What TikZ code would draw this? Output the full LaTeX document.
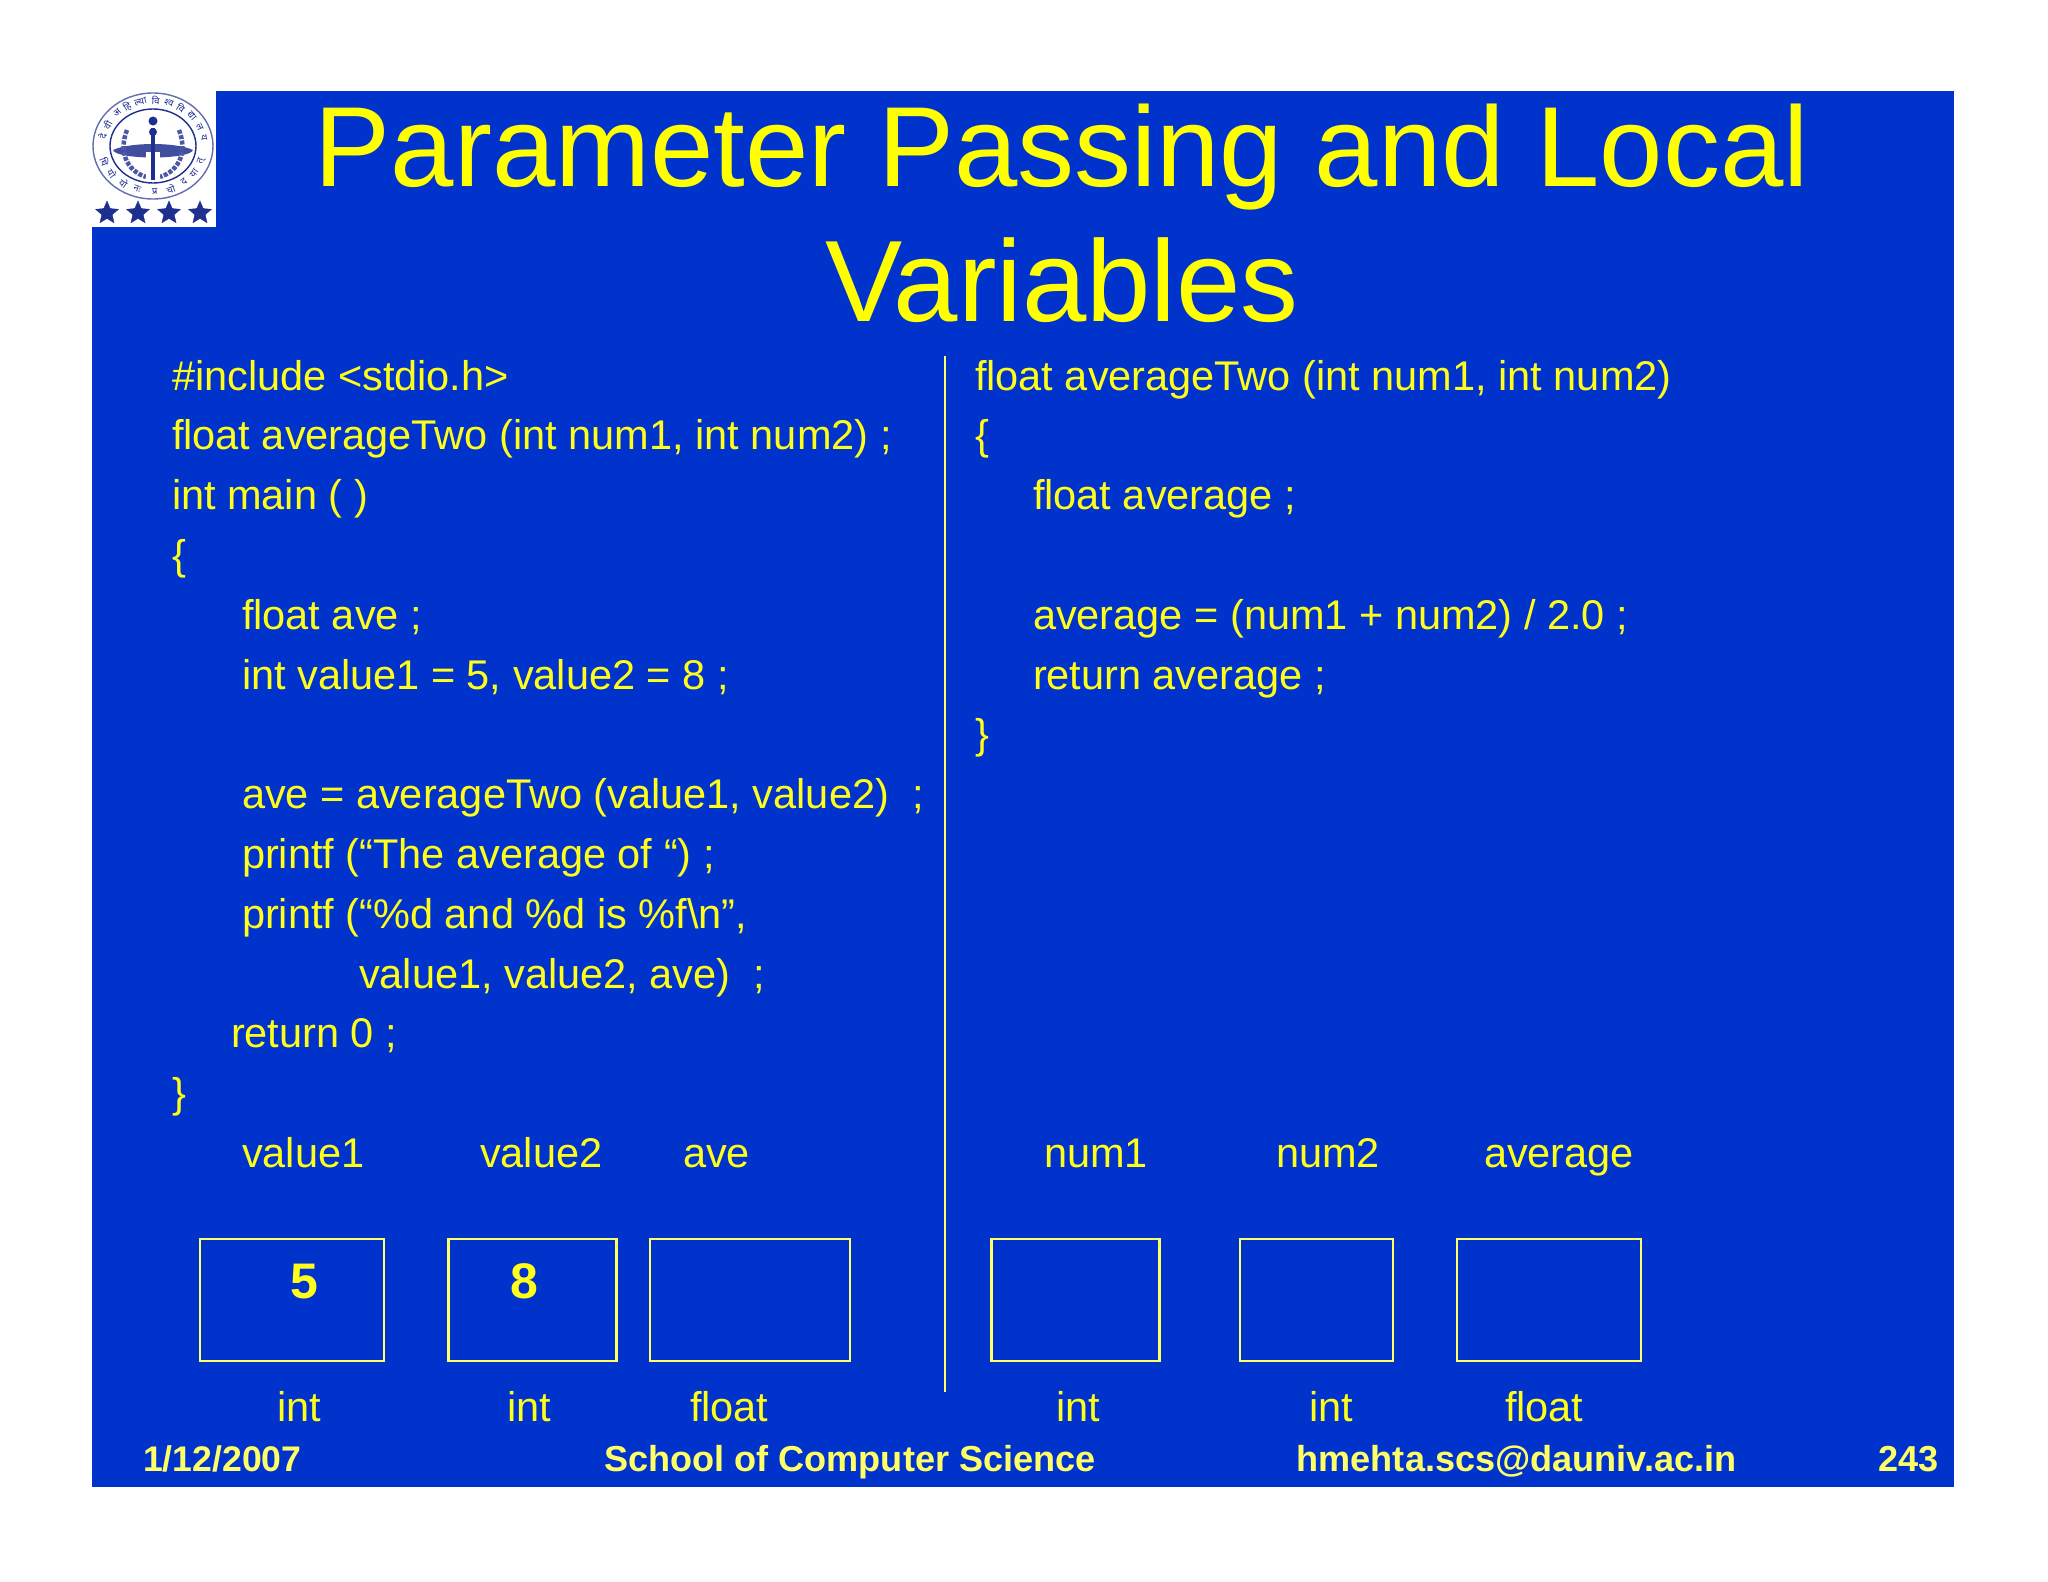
\documentclass[tikz,border=0pt]{standalone}
\usepackage{fontspec}
\usetikzlibrary{shapes.geometric}
\setmainfont{Liberation Sans}
\newfontfamily\devafont[Script=Devanagari]{Noto Sans}
\definecolor{slidebg}{HTML}{0033CC}
\definecolor{slideyel}{HTML}{FFFF1A}
\definecolor{titleyel}{HTML}{FFFF00}
\definecolor{foot}{HTML}{FFFF66}
\definecolor{logoblue}{HTML}{1F2F8F}
\newcommand{\code}[3]{\node[codetext] at (#1,#2) {#3};}
\tikzset{
 x=1pt,y=-1pt,
 codetext/.style={anchor=base west,inner sep=0,outer sep=0,text=slideyel,font=\fontsize{41.5}{41.5}\selectfont},
 titletext/.style={anchor=base,inner sep=0,text=titleyel},
 foottext/.style={anchor=base west,inner sep=0,text=foot,font=\bfseries\fontsize{36.1}{36.1}\selectfont},
 valtext/.style={anchor=base west,inner sep=0,text=slideyel,font=\bfseries\fontsize{50}{50}\selectfont},
 varbox/.style={draw=foot,line width=2.7pt,inner sep=0,anchor=north west},
 logostar/.style={star,star points=5,star point ratio=2.2,fill=logoblue,draw=logoblue,inner sep=0,minimum size=24pt},
 logoglyph/.style={inner sep=0,text=logoblue,font=\devafont\bfseries\fontsize{9.5}{9.5}\selectfont},
}
\begin{document}
\begin{tikzpicture}
\useasboundingbox (0,0) rectangle (2048,1582);
\fill[white] (0,0) rectangle (2048,1582);
\fill[slidebg] (92,91) rectangle (1954,1487);
% logo
\fill[white] (92,91) rectangle (215.5,227);
\draw[logoblue!70,line width=1.4pt] (153,146) ellipse [x radius=60,y radius=53];
\draw[logoblue,line width=1.4pt] (153,146) ellipse [x radius=43,y radius=37];
\foreach \a/\g in {168/दे,152/वी,134/अ,120/हि,104/ल्या,87/वि,72/श्व,57/वि,41/द्या,25/ल,10/य}
  \node[logoglyph,rotate=\a-90] at ({153+51.5*cos(\a)},{146-45.5*sin(\a)}) {\g};
\foreach \a/\g in {-160/धि,-143/यो,-125/यो,-108/नः,-88/प्र,-70/चो,-53/द,-37/या,-20/त्}
  \node[logoglyph,rotate=\a+90] at ({153+51.5*cos(\a)},{146-45.5*sin(\a)}) {\g};
\fill[logoblue!85] (113,150) .. controls (130,142) and (176,142) .. (193,150) .. controls (190,160) and (116,160) .. (113,150) -- cycle;
\draw[logoblue!80,line width=4.5pt,dash pattern=on 4pt off 1.5pt] (127,130) .. controls (119,150) and (125,170) .. (146,177);
\draw[logoblue!80,line width=4.5pt,dash pattern=on 4pt off 1.5pt] (179,130) .. controls (187,150) and (181,170) .. (160,177);
\fill[white] (146,152) rectangle (160,180);
\fill[logoblue] (151,128) rectangle (155,180);
\fill[logoblue] (153,121) circle (4.5pt) (153,132) circle (4pt);
\node[logostar] (s1) at (107,213) {};
\node[logostar] (s2) at (138,213) {};
\node[logostar] (s3) at (169,213) {};
\node[logostar] (s4) at (200,213) {};
% title
\node[titletext,font=\fontsize{113.9}{113.9}\selectfont] (t1) at (1062,186) {Parameter Passing and Local};
\node[titletext,font=\fontsize{115.7}{115.7}\selectfont] (t2) at (1062,321) {Variables};
% left code
\code{172}{390}{\#include <stdio.h>}
\code{172}{449.8}{float averageTwo (int num1, int num2) ;}
\code{172}{509.6}{int main ( )}
\code{172}{569.4}{\{}
\code{242}{629.2}{float ave ;}
\code{242}{689}{int value1 = 5, value2 = 8 ;}
\code{242}{808.6}{ave = averageTwo (value1, value2)\ \ ;}
\code{242}{868.4}{printf (“The average of “) ;}
\code{242}{928.2}{printf (“\%d and \%d is \%f\textbackslash n”,}
\code{359}{988}{value1, value2, ave)\ \ ;}
\code{231}{1047.8}{return 0 ;}
\code{172}{1107.6}{\}}
% right code
\code{975}{390}{float averageTwo (int num1, int num2)}
\code{975}{449.8}{\{}
\code{1033}{509.6}{float average ;}
\code{1033}{629.2}{average = (num1 + num2) / 2.0 ;}
\code{1033}{689}{return average ;}
\code{975}{748.8}{\}}
% divider
\coordinate (divtop) at (945,356);
\coordinate (divbot) at (945,1392);
\draw[foot,line width=2.4pt] (divtop) -- (divbot);
% variable names
\code{242}{1167.4}{value1}
\code{480}{1167.4}{value2}
\code{683}{1167.4}{ave}
\code{1044}{1167.4}{num1}
\code{1276}{1167.4}{num2}
\code{1484}{1167.4}{average}
% boxes
\node[varbox,minimum width=184pt,minimum height=122pt] (b1) at (198.6,1237.6) {};
\node[varbox,minimum width=168pt,minimum height=122pt] (b2) at (447.1,1237.6) {};
\node[varbox,minimum width=200pt,minimum height=122pt] (b3) at (648.6,1237.6) {};
\node[varbox,minimum width=168pt,minimum height=122pt] (b4) at (990.1,1237.6) {};
\node[varbox,minimum width=153pt,minimum height=122pt] (b5) at (1238.6,1237.6) {};
\node[varbox,minimum width=184pt,minimum height=122pt] (b6) at (1455.6,1237.6) {};
\node[valtext] (v5) at (290,1298) {5};
\node[valtext] (v8) at (510,1298) {8};
% types
\code{277}{1421}{int}
\code{507}{1421}{int}
\code{690}{1421}{float}
\code{1056.5}{1421}{int}
\code{1309.5}{1421}{int}
\code{1505}{1421}{float}
% footer
\node[foottext,font=\bfseries\fontsize{35.6}{35.6}\selectfont] (f1) at (143,1471) {1/12/2007};
\node[foottext] (f2) at (604,1471) {School of Computer Science};
\node[foottext] (f3) at (1296.5,1471) {hmehta.scs@dauniv.ac.in};
\node[foottext] (f4) at (1878.5,1471) {243};
\end{tikzpicture}
\end{document}
